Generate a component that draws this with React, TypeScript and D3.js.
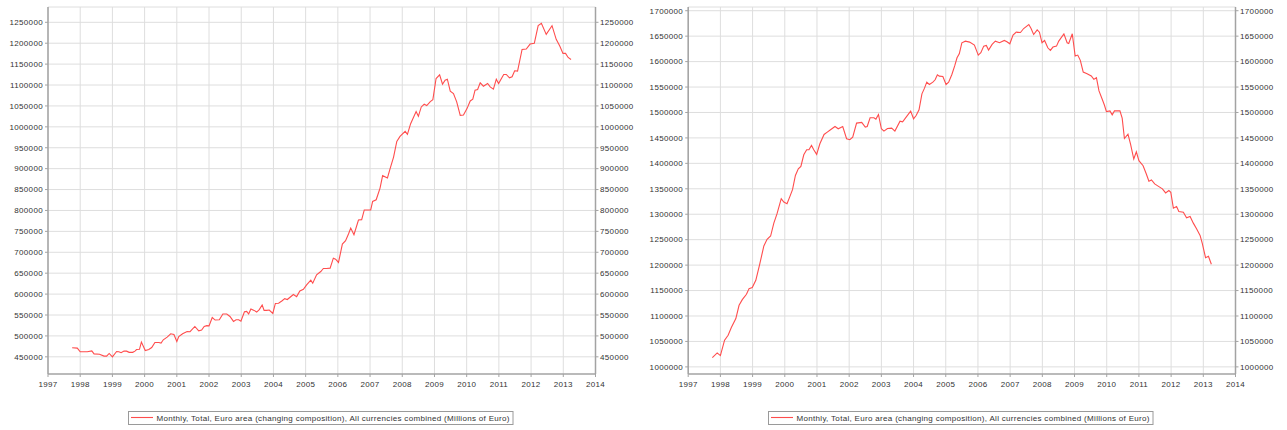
import React from "react";
import * as d3 from "d3";

// Left chart: monthly series (decimal year, millions of euro)
const leftYears = [
  1997.75, 1997.91, 1998.0, 1998.22, 1998.36, 1998.43, 1998.6, 1998.74, 1998.82, 1998.9,
  1999.0, 1999.13, 1999.2, 1999.27, 1999.36, 1999.44, 1999.52, 1999.63, 1999.7, 1999.75,
  1999.84, 1999.9, 2000.02, 2000.13, 2000.22, 2000.32, 2000.44, 2000.51, 2000.58, 2000.7,
  2000.81, 2000.91, 2001.0, 2001.06, 2001.18, 2001.32, 2001.41, 2001.56, 2001.68, 2001.77,
  2001.85, 2001.93, 2002.0, 2002.1, 2002.19, 2002.32, 2002.43, 2002.55, 2002.65, 2002.76,
  2002.84, 2002.92, 2002.99, 2003.1, 2003.17, 2003.23, 2003.3, 2003.4, 2003.48, 2003.56,
  2003.65, 2003.71, 2003.79, 2003.87, 2003.98, 2004.06, 2004.16, 2004.27, 2004.35, 2004.43,
  2004.62, 2004.72, 2004.82, 2004.93, 2005.03, 2005.16, 2005.22, 2005.34, 2005.47, 2005.55,
  2005.65, 2005.76, 2005.86, 2005.93, 2006.02, 2006.14, 2006.24, 2006.33, 2006.4, 2006.5,
  2006.64, 2006.74, 2006.82, 2006.93, 2007.02, 2007.08, 2007.19, 2007.31, 2007.39, 2007.54,
  2007.62, 2007.73, 2007.83, 2007.93, 2008.09, 2008.16, 2008.26, 2008.43, 2008.5, 2008.59,
  2008.68, 2008.76, 2008.87, 2008.95, 2009.05, 2009.16, 2009.25, 2009.33, 2009.4, 2009.49,
  2009.59, 2009.69, 2009.8, 2009.9, 2010.01, 2010.11, 2010.19, 2010.26, 2010.34, 2010.42,
  2010.52, 2010.65, 2010.73, 2010.83, 2010.92, 2010.99, 2011.15, 2011.23, 2011.33, 2011.41,
  2011.49, 2011.58, 2011.72, 2011.85, 2011.97, 2012.1, 2012.22, 2012.32, 2012.47, 2012.65,
  2012.78, 2012.89, 2012.99, 2013.07, 2013.15, 2013.24,
];
const leftValues = [
  471500, 470800, 462000, 462000, 464000, 457000, 456000, 451700, 451700, 458000,
  450000, 462700, 462000, 459700, 463600, 463600, 460700, 460700, 463600, 467500,
  468000, 485200, 465100, 467500, 472300, 484300, 484300, 483000, 490700, 497200,
  505000, 503500, 486600, 498600, 505000, 510600, 510000, 522600, 512300, 514000,
  522600, 524600, 524000, 544100, 537900, 538500, 552300, 552300, 546500, 534600,
  538500, 538500, 535000, 557800, 558500, 552300, 564200, 561000, 557000, 563000,
  573800, 561000, 561000, 562000, 553700, 577700, 578000, 584100, 589000, 587000,
  599000, 594000, 607600, 611600, 622000, 633200, 626000, 646000, 654000, 661200,
  661200, 662000, 686000, 683600, 675600, 719600, 727600, 743600, 758000, 742000,
  777200, 778000, 801200, 801200, 801200, 821600, 825600, 853600, 883200, 877600,
  899600, 927600, 965200, 977200, 989200, 982000, 1007600, 1036400, 1025200, 1047600,
  1054000, 1050800, 1060400, 1065200, 1115600, 1124400, 1102000, 1111600, 1114000, 1085200,
  1079600, 1059600, 1027600, 1028400, 1043600, 1062000, 1066000, 1087600, 1089200, 1105200,
  1097200, 1103600, 1095600, 1090000, 1114000, 1103600, 1125200, 1125200, 1117200, 1119600,
  1134000, 1133200, 1185200, 1186000, 1198000, 1199600, 1242000, 1247600, 1221200, 1242000,
  1209200, 1193200, 1175600, 1175600, 1166000, 1161200,
];

// Right chart: monthly series (decimal year, millions of euro)
const rightYears = [
  1997.75, 1997.9, 1998.0, 1998.13, 1998.24, 1998.34, 1998.48, 1998.58, 1998.68, 1998.81,
  1998.89, 1998.99, 1999.1, 1999.22, 1999.35, 1999.45, 1999.56, 1999.66, 1999.76, 1999.89,
  1999.97, 2000.07, 2000.16, 2000.24, 2000.33, 2000.42, 2000.5, 2000.59, 2000.68, 2000.75,
  2000.83, 2000.9, 2000.99, 2001.09, 2001.22, 2001.32, 2001.42, 2001.56, 2001.66, 2001.8,
  2001.92, 2002.02, 2002.11, 2002.23, 2002.39, 2002.5, 2002.56, 2002.65, 2002.77, 2002.83,
  2002.91, 2003.0, 2003.08, 2003.19, 2003.32, 2003.42, 2003.58, 2003.66, 2003.77, 2003.91,
  2004.0, 2004.08, 2004.17, 2004.26, 2004.34, 2004.41, 2004.49, 2004.6, 2004.67, 2004.74,
  2004.8, 2004.91, 2005.01, 2005.09, 2005.19, 2005.28, 2005.35, 2005.42, 2005.5, 2005.61,
  2005.74, 2005.89, 2006.01, 2006.09, 2006.18, 2006.26, 2006.33, 2006.44, 2006.54, 2006.67,
  2006.82, 2006.9, 2006.99, 2007.09, 2007.19, 2007.32, 2007.42, 2007.58, 2007.65, 2007.73,
  2007.84, 2007.91, 2007.99, 2008.07, 2008.17, 2008.25, 2008.33, 2008.44, 2008.51, 2008.67,
  2008.77, 2008.82, 2008.93, 2009.02, 2009.1, 2009.18, 2009.27, 2009.39, 2009.52, 2009.6,
  2009.68, 2009.76, 2009.86, 2009.93, 2009.99, 2010.1, 2010.17, 2010.24, 2010.41, 2010.48,
  2010.55, 2010.66, 2010.74, 2010.84, 2010.92, 2011.0, 2011.13, 2011.23, 2011.31, 2011.39,
  2011.49, 2011.62, 2011.73, 2011.83, 2011.93, 2011.99, 2012.07, 2012.17, 2012.24, 2012.38,
  2012.48, 2012.59, 2012.69, 2012.79, 2012.9, 2012.97, 2013.07, 2013.16, 2013.25,
];
const rightValues = [
  1018300, 1027500, 1022200, 1052400, 1062200, 1077200, 1094900, 1121100, 1132200, 1142700,
  1153800, 1155800, 1170200, 1201600, 1237600, 1250700, 1257200, 1282700, 1301100, 1330500,
  1324000, 1320700, 1335100, 1348200, 1376300, 1389400, 1394000, 1416900, 1426700, 1426700,
  1435200, 1426700, 1417600, 1438500, 1456800, 1461400, 1466000, 1472500, 1468000, 1472500,
  1448300, 1446400, 1451600, 1479100, 1480400, 1471200, 1472500, 1489600, 1489600, 1487000,
  1496100, 1468000, 1463400, 1468600, 1469300, 1463400, 1483000, 1481700, 1490900, 1502700,
  1487600, 1494100, 1505300, 1536700, 1547800, 1559600, 1555000, 1559600, 1564200, 1574000,
  1571400, 1570700, 1555000, 1559600, 1574700, 1592000, 1607600, 1615400, 1637000, 1640200,
  1638300, 1632400, 1612800, 1617400, 1630400, 1631700, 1622600, 1633700, 1640200, 1637000,
  1641500, 1638900, 1635000, 1652000, 1657800, 1657200, 1665000, 1672800, 1665000, 1653300,
  1662400, 1657800, 1637000, 1641500, 1627200, 1621900, 1628500, 1630400, 1640200, 1654600,
  1637000, 1635600, 1654600, 1610800, 1612800, 1602400, 1579500, 1576300, 1571700, 1565100,
  1568400, 1542300, 1526000, 1514200, 1501800, 1503100, 1495300, 1503100, 1503100, 1488800,
  1448900, 1457500, 1437900, 1408500, 1422700, 1405200, 1395400, 1379100, 1364800, 1367400,
  1359600, 1354300, 1349800, 1341900, 1346500, 1343200, 1311900, 1315200, 1305400, 1304100,
  1292900, 1295500, 1282500, 1271400, 1258400, 1242100, 1214600, 1217200, 1201600,
];

const yearTicks = d3.range(1997, 2015);
const leftTicks = d3.range(450000, 1250001, 50000);
const rightTicks = d3.range(1000000, 1700001, 50000);
const legendLabel =
  "Monthly, Total, Euro area (changing composition), All currencies combined (Millions of Euro)";

const FONT = "'Liberation Sans', Arial, sans-serif";
const GRID = "#dedede";
const AXIS = "#a3a3a3";
const TEXT = "#333333";
const RED = "#ff4d4d";

type ChartProps = {
  x0: number;
  x1: number;
  yDomain: [number, number];
  years: number[];
  values: number[];
  ticks: number[];
  legendX: number;
};

function Chart({ x0, x1, yDomain, years, values, ticks, legendX }: ChartProps) {
  const top = 7;
  const bottom = 374;
  const x = d3.scaleLinear().domain([1997, 2014]).range([x0, x1]);
  const y = d3.scaleLinear().domain(yDomain).range([bottom, top]);
  const pts = years.map((yr, i) => [yr, values[i]] as [number, number]);
  const path = d3
    .line<[number, number]>()
    .x((d) => x(d[0]))
    .y((d) => y(d[1]))(pts) as string;

  return (
    <g>
      {/* grid */}
      {yearTicks.map((t) => (
        <line key={"gx" + t} x1={x(t)} x2={x(t)} y1={top} y2={bottom} stroke={GRID} strokeWidth={1} />
      ))}
      {ticks.map((t) => (
        <line key={"gy" + t} x1={x0} x2={x1} y1={y(t)} y2={y(t)} stroke={GRID} strokeWidth={1} />
      ))}
      <line x1={x0} x2={x1} y1={top} y2={top} stroke={GRID} strokeWidth={1} />
      {/* axes */}
      <line x1={x0} x2={x0} y1={top} y2={bottom} stroke={AXIS} strokeWidth={1.5} />
      <line x1={x1} x2={x1} y1={top} y2={bottom} stroke={AXIS} strokeWidth={1.5} />
      <line x1={x0} x2={x1} y1={bottom} y2={bottom} stroke={AXIS} strokeWidth={1.5} />
      {ticks.map((t) => (
        <g key={"ty" + t}>
          <line x1={x0 - 3} x2={x0} y1={y(t)} y2={y(t)} stroke={AXIS} strokeWidth={1} />
          <line x1={x1} x2={x1 + 3} y1={y(t)} y2={y(t)} stroke={AXIS} strokeWidth={1} />
          <text x={x0 - 5} y={y(t)} dy="0.35em" textAnchor="end" fontSize={8} letterSpacing={0.35} fill={TEXT} fontFamily={FONT}>
            {t}
          </text>
          <text x={x1 + 4.5} y={y(t)} dy="0.35em" textAnchor="start" fontSize={8} letterSpacing={0.35} fill={TEXT} fontFamily={FONT}>
            {t}
          </text>
        </g>
      ))}
      {yearTicks.map((t) => (
        <g key={"tx" + t}>
          <line x1={x(t)} x2={x(t)} y1={bottom} y2={bottom + 3} stroke={AXIS} strokeWidth={1} />
          <text x={x(t)} y={bottom + 13} textAnchor="middle" fontSize={8} letterSpacing={0.3} fill={TEXT} fontFamily={FONT}>
            {t}
          </text>
        </g>
      ))}
      {/* series */}
      <path d={path} fill="none" stroke={RED} strokeWidth={1.1} />
      {/* legend */}
      <rect x={legendX + 0.5} y={411.5} width={384.5} height={13} fill="#fff" stroke="#9a9a9a" strokeWidth={1} />
      <line x1={legendX + 3} x2={legendX + 25} y1={417.5} y2={417.5} stroke={RED} strokeWidth={1.1} />
      <text
        x={legendX + 28.5}
        y={421}
        fontSize={8}
        fill={TEXT}
        fontFamily={FONT}
        textLength={353}
        lengthAdjust="spacing"
      >
        {legendLabel}
      </text>
    </g>
  );
}

export default function App() {
  return (
    <svg
      width={1287}
      height={430}
      style={{ position: "absolute", left: 0, top: 0, background: "#fff" }}
    >
      <rect x={0} y={0} width={1287} height={430} fill="#fff" />
      <Chart
        x0={48}
        x1={595.5}
        yDomain={[408900, 1286600]}
        years={leftYears}
        values={leftValues}
        ticks={leftTicks}
        legendX={128}
      />
      <Chart
        x0={688.2}
        x1={1235.5}
        yDomain={[986000, 1707300]}
        years={rightYears}
        values={rightValues}
        ticks={rightTicks}
        legendX={768}
      />
    </svg>
  );
}
